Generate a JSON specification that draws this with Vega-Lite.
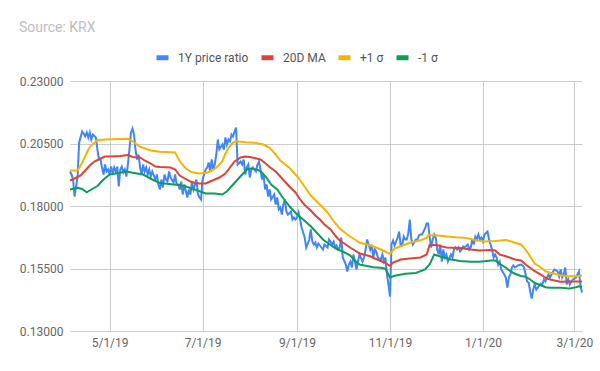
{
  "$schema": "https://vega.github.io/schema/vega-lite/v6.json",
  "width": 512,
  "height": 250,
  "autosize": {"type": "none"},
  "padding": {"left": 70, "top": 81, "right": 18, "bottom": 40},
  "background": "white",
  "config": {
    "view": {"stroke": null},
    "font": "Roboto",
    "axis": {"domain": false, "ticks": false, "tickSize": 0, "gridColor": "#cccccc", "gridWidth": 1, "labelFont": "Roboto", "labelFontSize": 12, "labelColor": "#666666", "title": null}
  },
  "title": {"text": "Source: KRX", "anchor": "start", "frame": "group", "fontSize": 14, "fontWeight": "normal", "font": "Roboto", "color": "#bdbdbd", "dx": -51, "offset": 14},
  "datasets": {
    "ratio": [
      {"date": "2019/04/05", "value": 0.1938}, {"date": "2019/04/06", "value": 0.1926}, {"date": "2019/04/07", "value": 0.1906}, {"date": "2019/04/08", "value": 0.1838},
      {"date": "2019/04/10", "value": 0.1918}, {"date": "2019/04/11", "value": 0.2054}, {"date": "2019/04/13", "value": 0.2098}, {"date": "2019/04/15", "value": 0.2079},
      {"date": "2019/04/16", "value": 0.2094}, {"date": "2019/04/17", "value": 0.2074}, {"date": "2019/04/18", "value": 0.2094}, {"date": "2019/04/19", "value": 0.2066},
      {"date": "2019/04/20", "value": 0.2086}, {"date": "2019/04/22", "value": 0.2074}, {"date": "2019/04/23", "value": 0.2026}, {"date": "2019/04/24", "value": 0.1986},
      {"date": "2019/04/25", "value": 0.1986}, {"date": "2019/04/26", "value": 0.1954}, {"date": "2019/04/27", "value": 0.1926}, {"date": "2019/04/28", "value": 0.1966},
      {"date": "2019/04/29", "value": 0.1938}, {"date": "2019/04/30", "value": 0.1946}, {"date": "2019/05/01", "value": 0.1926}, {"date": "2019/05/02", "value": 0.1958},
      {"date": "2019/05/03", "value": 0.1930}, {"date": "2019/05/04", "value": 0.1954}, {"date": "2019/05/05", "value": 0.1938}, {"date": "2019/05/06", "value": 0.1958},
      {"date": "2019/05/07", "value": 0.1878}, {"date": "2019/05/08", "value": 0.1946}, {"date": "2019/05/09", "value": 0.1958}, {"date": "2019/05/10", "value": 0.1934},
      {"date": "2019/05/11", "value": 0.1946}, {"date": "2019/05/12", "value": 0.1918}, {"date": "2019/05/13", "value": 0.1966}, {"date": "2019/05/14", "value": 0.2026},
      {"date": "2019/05/15", "value": 0.2094}, {"date": "2019/05/16", "value": 0.2110}, {"date": "2019/05/17", "value": 0.2086}, {"date": "2019/05/18", "value": 0.2026},
      {"date": "2019/05/19", "value": 0.1986}, {"date": "2019/05/20", "value": 0.2006}, {"date": "2019/05/21", "value": 0.1954}, {"date": "2019/05/22", "value": 0.1926},
      {"date": "2019/05/23", "value": 0.1966}, {"date": "2019/05/24", "value": 0.1938}, {"date": "2019/05/25", "value": 0.1954}, {"date": "2019/05/26", "value": 0.1926},
      {"date": "2019/05/27", "value": 0.1946}, {"date": "2019/05/28", "value": 0.1918}, {"date": "2019/05/29", "value": 0.1938}, {"date": "2019/05/31", "value": 0.1906},
      {"date": "2019/06/01", "value": 0.1926}, {"date": "2019/06/02", "value": 0.1886}, {"date": "2019/06/03", "value": 0.1866}, {"date": "2019/06/04", "value": 0.1906},
      {"date": "2019/06/05", "value": 0.1874}, {"date": "2019/06/06", "value": 0.1926}, {"date": "2019/06/07", "value": 0.1906}, {"date": "2019/06/08", "value": 0.1898},
      {"date": "2019/06/09", "value": 0.1938}, {"date": "2019/06/10", "value": 0.1914}, {"date": "2019/06/12", "value": 0.1894}, {"date": "2019/06/13", "value": 0.1926},
      {"date": "2019/06/14", "value": 0.1886}, {"date": "2019/06/15", "value": 0.1886}, {"date": "2019/06/16", "value": 0.1866}, {"date": "2019/06/17", "value": 0.1898},
      {"date": "2019/06/18", "value": 0.1846}, {"date": "2019/06/19", "value": 0.1886}, {"date": "2019/06/21", "value": 0.1834}, {"date": "2019/06/22", "value": 0.1866},
      {"date": "2019/06/23", "value": 0.1846}, {"date": "2019/06/24", "value": 0.1894}, {"date": "2019/06/25", "value": 0.1866}, {"date": "2019/06/26", "value": 0.1886},
      {"date": "2019/06/27", "value": 0.1906}, {"date": "2019/06/28", "value": 0.1846}, {"date": "2019/06/29", "value": 0.1834}, {"date": "2019/06/30", "value": 0.1826},
      {"date": "2019/07/01", "value": 0.1906}, {"date": "2019/07/03", "value": 0.1946}, {"date": "2019/07/04", "value": 0.1954}, {"date": "2019/07/05", "value": 0.1974},
      {"date": "2019/07/06", "value": 0.1938}, {"date": "2019/07/07", "value": 0.1986}, {"date": "2019/07/08", "value": 0.1946}, {"date": "2019/07/09", "value": 0.1966},
      {"date": "2019/07/10", "value": 0.2006}, {"date": "2019/07/11", "value": 0.2066}, {"date": "2019/07/12", "value": 0.2026}, {"date": "2019/07/14", "value": 0.2046},
      {"date": "2019/07/15", "value": 0.2026}, {"date": "2019/07/16", "value": 0.2074}, {"date": "2019/07/17", "value": 0.2046}, {"date": "2019/07/18", "value": 0.2066},
      {"date": "2019/07/19", "value": 0.2058}, {"date": "2019/07/20", "value": 0.2086}, {"date": "2019/07/21", "value": 0.2078}, {"date": "2019/07/22", "value": 0.2098},
      {"date": "2019/07/23", "value": 0.2114}, {"date": "2019/07/24", "value": 0.1966}, {"date": "2019/07/26", "value": 0.1978}, {"date": "2019/07/27", "value": 0.1966},
      {"date": "2019/07/28", "value": 0.1986}, {"date": "2019/07/29", "value": 0.1926}, {"date": "2019/07/30", "value": 0.1954}, {"date": "2019/07/31", "value": 0.1966},
      {"date": "2019/08/01", "value": 0.1914}, {"date": "2019/08/02", "value": 0.1946}, {"date": "2019/08/03", "value": 0.1954}, {"date": "2019/08/05", "value": 0.1938},
      {"date": "2019/08/06", "value": 0.1966}, {"date": "2019/08/07", "value": 0.1978}, {"date": "2019/08/08", "value": 0.1946}, {"date": "2019/08/09", "value": 0.1906},
      {"date": "2019/08/10", "value": 0.1926}, {"date": "2019/08/11", "value": 0.1866}, {"date": "2019/08/12", "value": 0.1886}, {"date": "2019/08/13", "value": 0.1838},
      {"date": "2019/08/14", "value": 0.1866}, {"date": "2019/08/15", "value": 0.1826}, {"date": "2019/08/17", "value": 0.1846}, {"date": "2019/08/18", "value": 0.1806},
      {"date": "2019/08/19", "value": 0.1834}, {"date": "2019/08/20", "value": 0.1786}, {"date": "2019/08/21", "value": 0.1794}, {"date": "2019/08/22", "value": 0.1766},
      {"date": "2019/08/23", "value": 0.1806}, {"date": "2019/08/24", "value": 0.1826}, {"date": "2019/08/25", "value": 0.1778}, {"date": "2019/08/26", "value": 0.1766},
      {"date": "2019/08/28", "value": 0.1778}, {"date": "2019/08/29", "value": 0.1746}, {"date": "2019/08/30", "value": 0.1754}, {"date": "2019/08/31", "value": 0.1746},
      {"date": "2019/09/01", "value": 0.1754}, {"date": "2019/09/02", "value": 0.1774}, {"date": "2019/09/03", "value": 0.1746}, {"date": "2019/09/04", "value": 0.1714},
      {"date": "2019/09/05", "value": 0.1694}, {"date": "2019/09/06", "value": 0.1674}, {"date": "2019/09/07", "value": 0.1634}, {"date": "2019/09/09", "value": 0.1666},
      {"date": "2019/09/10", "value": 0.1706}, {"date": "2019/09/11", "value": 0.1658}, {"date": "2019/09/12", "value": 0.1646}, {"date": "2019/09/13", "value": 0.1654},
      {"date": "2019/09/14", "value": 0.1634}, {"date": "2019/09/15", "value": 0.1650}, {"date": "2019/09/16", "value": 0.1642}, {"date": "2019/09/17", "value": 0.1634},
      {"date": "2019/09/18", "value": 0.1626}, {"date": "2019/09/19", "value": 0.1646}, {"date": "2019/09/21", "value": 0.1634}, {"date": "2019/09/22", "value": 0.1666},
      {"date": "2019/09/23", "value": 0.1658}, {"date": "2019/09/24", "value": 0.1646}, {"date": "2019/09/25", "value": 0.1658}, {"date": "2019/09/26", "value": 0.1634},
      {"date": "2019/09/27", "value": 0.1642}, {"date": "2019/09/28", "value": 0.1626}, {"date": "2019/09/29", "value": 0.1634}, {"date": "2019/09/30", "value": 0.1674},
      {"date": "2019/10/01", "value": 0.1594}, {"date": "2019/10/03", "value": 0.1566}, {"date": "2019/10/04", "value": 0.1538}, {"date": "2019/10/05", "value": 0.1566},
      {"date": "2019/10/06", "value": 0.1578}, {"date": "2019/10/07", "value": 0.1554}, {"date": "2019/10/08", "value": 0.1606}, {"date": "2019/10/09", "value": 0.1578},
      {"date": "2019/10/10", "value": 0.1546}, {"date": "2019/10/11", "value": 0.1578}, {"date": "2019/10/12", "value": 0.1606}, {"date": "2019/10/14", "value": 0.1578},
      {"date": "2019/10/15", "value": 0.1594}, {"date": "2019/10/16", "value": 0.1626}, {"date": "2019/10/17", "value": 0.1666}, {"date": "2019/10/18", "value": 0.1646},
      {"date": "2019/10/19", "value": 0.1626}, {"date": "2019/10/20", "value": 0.1646}, {"date": "2019/10/21", "value": 0.1594}, {"date": "2019/10/22", "value": 0.1626},
      {"date": "2019/10/23", "value": 0.1618}, {"date": "2019/10/24", "value": 0.1594}, {"date": "2019/10/26", "value": 0.1586}, {"date": "2019/10/27", "value": 0.1606},
      {"date": "2019/10/28", "value": 0.1578}, {"date": "2019/10/29", "value": 0.1594}, {"date": "2019/10/30", "value": 0.1526}, {"date": "2019/10/31", "value": 0.1486},
      {"date": "2019/11/01", "value": 0.1438}, {"date": "2019/11/02", "value": 0.1646}, {"date": "2019/11/03", "value": 0.1662}, {"date": "2019/11/04", "value": 0.1642},
      {"date": "2019/11/06", "value": 0.1674}, {"date": "2019/11/07", "value": 0.1698}, {"date": "2019/11/08", "value": 0.1642}, {"date": "2019/11/09", "value": 0.1642},
      {"date": "2019/11/10", "value": 0.1678}, {"date": "2019/11/11", "value": 0.1666}, {"date": "2019/11/12", "value": 0.1666}, {"date": "2019/11/13", "value": 0.1690},
      {"date": "2019/11/14", "value": 0.1746}, {"date": "2019/11/15", "value": 0.1666}, {"date": "2019/11/16", "value": 0.1646}, {"date": "2019/11/18", "value": 0.1666},
      {"date": "2019/11/19", "value": 0.1666}, {"date": "2019/11/20", "value": 0.1682}, {"date": "2019/11/21", "value": 0.1686}, {"date": "2019/11/22", "value": 0.1686},
      {"date": "2019/11/23", "value": 0.1698}, {"date": "2019/11/24", "value": 0.1710}, {"date": "2019/11/25", "value": 0.1730}, {"date": "2019/11/26", "value": 0.1730},
      {"date": "2019/11/27", "value": 0.1678}, {"date": "2019/11/28", "value": 0.1634}, {"date": "2019/11/29", "value": 0.1666}, {"date": "2019/11/30", "value": 0.1686},
      {"date": "2019/12/01", "value": 0.1674}, {"date": "2019/12/02", "value": 0.1626}, {"date": "2019/12/03", "value": 0.1606}, {"date": "2019/12/04", "value": 0.1646},
      {"date": "2019/12/05", "value": 0.1578}, {"date": "2019/12/06", "value": 0.1626}, {"date": "2019/12/07", "value": 0.1594}, {"date": "2019/12/08", "value": 0.1606},
      {"date": "2019/12/09", "value": 0.1578}, {"date": "2019/12/11", "value": 0.1606}, {"date": "2019/12/12", "value": 0.1594}, {"date": "2019/12/13", "value": 0.1626},
      {"date": "2019/12/14", "value": 0.1634}, {"date": "2019/12/15", "value": 0.1626}, {"date": "2019/12/16", "value": 0.1634}, {"date": "2019/12/17", "value": 0.1618},
      {"date": "2019/12/18", "value": 0.1626}, {"date": "2019/12/19", "value": 0.1638}, {"date": "2019/12/20", "value": 0.1634}, {"date": "2019/12/22", "value": 0.1646},
      {"date": "2019/12/23", "value": 0.1626}, {"date": "2019/12/24", "value": 0.1634}, {"date": "2019/12/25", "value": 0.1666}, {"date": "2019/12/26", "value": 0.1646},
      {"date": "2019/12/27", "value": 0.1678}, {"date": "2019/12/28", "value": 0.1666}, {"date": "2019/12/29", "value": 0.1686}, {"date": "2019/12/30", "value": 0.1666},
      {"date": "2019/12/31", "value": 0.1674}, {"date": "2020/01/01", "value": 0.1658}, {"date": "2020/01/02", "value": 0.1686}, {"date": "2020/01/04", "value": 0.1698},
      {"date": "2020/01/05", "value": 0.1666}, {"date": "2020/01/06", "value": 0.1646}, {"date": "2020/01/07", "value": 0.1626}, {"date": "2020/01/08", "value": 0.1594},
      {"date": "2020/01/09", "value": 0.1606}, {"date": "2020/01/10", "value": 0.1594}, {"date": "2020/01/11", "value": 0.1566}, {"date": "2020/01/12", "value": 0.1578},
      {"date": "2020/01/13", "value": 0.1546}, {"date": "2020/01/15", "value": 0.1526}, {"date": "2020/01/16", "value": 0.1514}, {"date": "2020/01/17", "value": 0.1474},
      {"date": "2020/01/18", "value": 0.1514}, {"date": "2020/01/19", "value": 0.1526}, {"date": "2020/01/20", "value": 0.1554}, {"date": "2020/01/21", "value": 0.1562},
      {"date": "2020/01/22", "value": 0.1554}, {"date": "2020/01/23", "value": 0.1558}, {"date": "2020/01/24", "value": 0.1562}, {"date": "2020/01/26", "value": 0.1566},
      {"date": "2020/01/27", "value": 0.1562}, {"date": "2020/01/28", "value": 0.1554}, {"date": "2020/01/29", "value": 0.1526}, {"date": "2020/01/30", "value": 0.1498},
      {"date": "2020/01/31", "value": 0.1494}, {"date": "2020/02/01", "value": 0.1458}, {"date": "2020/02/02", "value": 0.1430}, {"date": "2020/02/03", "value": 0.1466},
      {"date": "2020/02/04", "value": 0.1486}, {"date": "2020/02/05", "value": 0.1466}, {"date": "2020/02/07", "value": 0.1482}, {"date": "2020/02/08", "value": 0.1490},
      {"date": "2020/02/09", "value": 0.1486}, {"date": "2020/02/10", "value": 0.1506}, {"date": "2020/02/11", "value": 0.1498}, {"date": "2020/02/12", "value": 0.1514},
      {"date": "2020/02/13", "value": 0.1526}, {"date": "2020/02/14", "value": 0.1514}, {"date": "2020/02/15", "value": 0.1526}, {"date": "2020/02/16", "value": 0.1538},
      {"date": "2020/02/17", "value": 0.1546}, {"date": "2020/02/19", "value": 0.1538}, {"date": "2020/02/20", "value": 0.1518}, {"date": "2020/02/21", "value": 0.1546},
      {"date": "2020/02/22", "value": 0.1514}, {"date": "2020/02/23", "value": 0.1526}, {"date": "2020/02/24", "value": 0.1554}, {"date": "2020/02/25", "value": 0.1486},
      {"date": "2020/02/26", "value": 0.1506}, {"date": "2020/02/27", "value": 0.1486}, {"date": "2020/02/28", "value": 0.1498}, {"date": "2020/02/29", "value": 0.1506},
      {"date": "2020/03/02", "value": 0.1514}, {"date": "2020/03/03", "value": 0.1526}, {"date": "2020/03/04", "value": 0.1538}, {"date": "2020/03/05", "value": 0.1482},
      {"date": "2020/03/06", "value": 0.1454}
    ],
    "ma": [
      {"date": "2019/04/05", "value": 0.1902}, {"date": "2019/04/08", "value": 0.1910}, {"date": "2019/04/12", "value": 0.1922}, {"date": "2019/04/15", "value": 0.1942},
      {"date": "2019/04/18", "value": 0.1962}, {"date": "2019/04/21", "value": 0.1978}, {"date": "2019/04/25", "value": 0.1990}, {"date": "2019/04/28", "value": 0.1998},
      {"date": "2019/05/01", "value": 0.1998}, {"date": "2019/05/08", "value": 0.2000}, {"date": "2019/05/13", "value": 0.2004}, {"date": "2019/05/16", "value": 0.1996},
      {"date": "2019/05/21", "value": 0.1994}, {"date": "2019/05/24", "value": 0.1982}, {"date": "2019/05/28", "value": 0.1970}, {"date": "2019/05/31", "value": 0.1958},
      {"date": "2019/06/03", "value": 0.1956}, {"date": "2019/06/10", "value": 0.1954}, {"date": "2019/06/13", "value": 0.1946}, {"date": "2019/06/16", "value": 0.1922},
      {"date": "2019/06/20", "value": 0.1908}, {"date": "2019/06/23", "value": 0.1898}, {"date": "2019/06/26", "value": 0.1892}, {"date": "2019/06/29", "value": 0.1890},
      {"date": "2019/07/03", "value": 0.1890}, {"date": "2019/07/06", "value": 0.1898}, {"date": "2019/07/09", "value": 0.1906}, {"date": "2019/07/12", "value": 0.1914},
      {"date": "2019/07/16", "value": 0.1930}, {"date": "2019/07/19", "value": 0.1954}, {"date": "2019/07/22", "value": 0.1978}, {"date": "2019/07/26", "value": 0.1994},
      {"date": "2019/07/29", "value": 0.1998}, {"date": "2019/08/01", "value": 0.1996}, {"date": "2019/08/04", "value": 0.1992}, {"date": "2019/08/08", "value": 0.1986},
      {"date": "2019/08/11", "value": 0.1972}, {"date": "2019/08/14", "value": 0.1956}, {"date": "2019/08/18", "value": 0.1938}, {"date": "2019/08/21", "value": 0.1918},
      {"date": "2019/08/24", "value": 0.1898}, {"date": "2019/08/27", "value": 0.1878}, {"date": "2019/08/31", "value": 0.1854}, {"date": "2019/09/03", "value": 0.1826},
      {"date": "2019/09/06", "value": 0.1804}, {"date": "2019/09/10", "value": 0.1782}, {"date": "2019/09/13", "value": 0.1762}, {"date": "2019/09/16", "value": 0.1746},
      {"date": "2019/09/19", "value": 0.1726}, {"date": "2019/09/23", "value": 0.1706}, {"date": "2019/09/26", "value": 0.1682}, {"date": "2019/09/29", "value": 0.1662},
      {"date": "2019/10/03", "value": 0.1646}, {"date": "2019/10/06", "value": 0.1633}, {"date": "2019/10/09", "value": 0.1622}, {"date": "2019/10/12", "value": 0.1610},
      {"date": "2019/10/16", "value": 0.1604}, {"date": "2019/10/19", "value": 0.1599}, {"date": "2019/10/22", "value": 0.1590}, {"date": "2019/10/26", "value": 0.1580},
      {"date": "2019/10/29", "value": 0.1572}, {"date": "2019/11/01", "value": 0.1560}, {"date": "2019/11/03", "value": 0.1574}, {"date": "2019/11/08", "value": 0.1586},
      {"date": "2019/11/14", "value": 0.1590}, {"date": "2019/11/21", "value": 0.1594}, {"date": "2019/11/25", "value": 0.1606}, {"date": "2019/11/27", "value": 0.1644},
      {"date": "2019/12/01", "value": 0.1644}, {"date": "2019/12/08", "value": 0.1634}, {"date": "2019/12/17", "value": 0.1632}, {"date": "2019/12/24", "value": 0.1626},
      {"date": "2019/12/30", "value": 0.1622}, {"date": "2020/01/06", "value": 0.1624}, {"date": "2020/01/09", "value": 0.1622}, {"date": "2020/01/12", "value": 0.1606},
      {"date": "2020/01/16", "value": 0.1599}, {"date": "2020/01/19", "value": 0.1593}, {"date": "2020/01/22", "value": 0.1586}, {"date": "2020/01/26", "value": 0.1582},
      {"date": "2020/01/29", "value": 0.1566}, {"date": "2020/02/01", "value": 0.1553}, {"date": "2020/02/04", "value": 0.1539}, {"date": "2020/02/08", "value": 0.1526},
      {"date": "2020/02/11", "value": 0.1513}, {"date": "2020/02/14", "value": 0.1506}, {"date": "2020/02/17", "value": 0.1502}, {"date": "2020/02/21", "value": 0.1497},
      {"date": "2020/02/27", "value": 0.1498}, {"date": "2020/03/06", "value": 0.1498}
    ],
    "upper": [
      {"date": "2019/04/05", "value": 0.1942}, {"date": "2019/04/10", "value": 0.1942}, {"date": "2019/04/13", "value": 0.1973}, {"date": "2019/04/17", "value": 0.2026},
      {"date": "2019/04/19", "value": 0.2042}, {"date": "2019/04/23", "value": 0.2063}, {"date": "2019/04/28", "value": 0.2066}, {"date": "2019/05/13", "value": 0.2069},
      {"date": "2019/05/16", "value": 0.2059}, {"date": "2019/05/21", "value": 0.2037}, {"date": "2019/05/28", "value": 0.2022}, {"date": "2019/06/03", "value": 0.2017},
      {"date": "2019/06/13", "value": 0.2014}, {"date": "2019/06/16", "value": 0.1979}, {"date": "2019/06/20", "value": 0.1950}, {"date": "2019/06/24", "value": 0.1935},
      {"date": "2019/06/29", "value": 0.1930}, {"date": "2019/07/04", "value": 0.1933}, {"date": "2019/07/07", "value": 0.1942}, {"date": "2019/07/10", "value": 0.1953},
      {"date": "2019/07/14", "value": 0.1979}, {"date": "2019/07/16", "value": 0.2010}, {"date": "2019/07/18", "value": 0.2033}, {"date": "2019/07/21", "value": 0.2054},
      {"date": "2019/07/23", "value": 0.2059}, {"date": "2019/07/29", "value": 0.2055}, {"date": "2019/08/04", "value": 0.2053}, {"date": "2019/08/10", "value": 0.2046},
      {"date": "2019/08/14", "value": 0.2033}, {"date": "2019/08/18", "value": 0.2006}, {"date": "2019/08/21", "value": 0.1982}, {"date": "2019/08/27", "value": 0.1953},
      {"date": "2019/09/01", "value": 0.1919}, {"date": "2019/09/05", "value": 0.1886}, {"date": "2019/09/10", "value": 0.1842}, {"date": "2019/09/16", "value": 0.1806},
      {"date": "2019/09/21", "value": 0.1774}, {"date": "2019/09/25", "value": 0.1739}, {"date": "2019/09/29", "value": 0.1710}, {"date": "2019/10/04", "value": 0.1686},
      {"date": "2019/10/08", "value": 0.1669}, {"date": "2019/10/12", "value": 0.1654}, {"date": "2019/10/17", "value": 0.1646}, {"date": "2019/10/21", "value": 0.1639},
      {"date": "2019/10/26", "value": 0.1626}, {"date": "2019/10/30", "value": 0.1614}, {"date": "2019/11/01", "value": 0.1609}, {"date": "2019/11/04", "value": 0.1630},
      {"date": "2019/11/08", "value": 0.1639}, {"date": "2019/11/14", "value": 0.1653}, {"date": "2019/11/21", "value": 0.1663}, {"date": "2019/11/25", "value": 0.1672},
      {"date": "2019/11/26", "value": 0.1683}, {"date": "2019/12/01", "value": 0.1683}, {"date": "2019/12/07", "value": 0.1679}, {"date": "2019/12/14", "value": 0.1675},
      {"date": "2019/12/20", "value": 0.1673}, {"date": "2019/12/27", "value": 0.1664}, {"date": "2020/01/02", "value": 0.1658}, {"date": "2020/01/09", "value": 0.1660},
      {"date": "2020/01/16", "value": 0.1664}, {"date": "2020/01/19", "value": 0.1659}, {"date": "2020/01/22", "value": 0.1653}, {"date": "2020/01/26", "value": 0.1646},
      {"date": "2020/01/29", "value": 0.1626}, {"date": "2020/02/01", "value": 0.1598}, {"date": "2020/02/04", "value": 0.1570}, {"date": "2020/02/08", "value": 0.1554},
      {"date": "2020/02/11", "value": 0.1539}, {"date": "2020/02/14", "value": 0.1533}, {"date": "2020/02/17", "value": 0.1529}, {"date": "2020/02/21", "value": 0.1523},
      {"date": "2020/02/24", "value": 0.1520}, {"date": "2020/03/02", "value": 0.1519}, {"date": "2020/03/06", "value": 0.1522}
    ],
    "lower": [
      {"date": "2019/04/05", "value": 0.1866}, {"date": "2019/04/10", "value": 0.1873}, {"date": "2019/04/13", "value": 0.1868}, {"date": "2019/04/16", "value": 0.1855},
      {"date": "2019/04/19", "value": 0.1866}, {"date": "2019/04/23", "value": 0.1880}, {"date": "2019/04/27", "value": 0.1906}, {"date": "2019/05/01", "value": 0.1926},
      {"date": "2019/05/08", "value": 0.1933}, {"date": "2019/05/12", "value": 0.1939}, {"date": "2019/05/16", "value": 0.1933}, {"date": "2019/05/23", "value": 0.1926},
      {"date": "2019/05/29", "value": 0.1906}, {"date": "2019/06/03", "value": 0.1892}, {"date": "2019/06/12", "value": 0.1886}, {"date": "2019/06/16", "value": 0.1884},
      {"date": "2019/06/20", "value": 0.1878}, {"date": "2019/06/26", "value": 0.1866}, {"date": "2019/07/03", "value": 0.1850}, {"date": "2019/07/09", "value": 0.1850},
      {"date": "2019/07/14", "value": 0.1846}, {"date": "2019/07/17", "value": 0.1859}, {"date": "2019/07/20", "value": 0.1879}, {"date": "2019/07/23", "value": 0.1899},
      {"date": "2019/07/27", "value": 0.1926}, {"date": "2019/07/30", "value": 0.1946}, {"date": "2019/08/02", "value": 0.1950}, {"date": "2019/08/06", "value": 0.1945},
      {"date": "2019/08/09", "value": 0.1934}, {"date": "2019/08/12", "value": 0.1913}, {"date": "2019/08/15", "value": 0.1886}, {"date": "2019/08/19", "value": 0.1866},
      {"date": "2019/08/22", "value": 0.1839}, {"date": "2019/08/27", "value": 0.1799}, {"date": "2019/09/01", "value": 0.1766}, {"date": "2019/09/05", "value": 0.1746},
      {"date": "2019/09/10", "value": 0.1719}, {"date": "2019/09/14", "value": 0.1693}, {"date": "2019/09/18", "value": 0.1666}, {"date": "2019/09/23", "value": 0.1644},
      {"date": "2019/09/27", "value": 0.1628}, {"date": "2019/10/01", "value": 0.1618}, {"date": "2019/10/06", "value": 0.1602}, {"date": "2019/10/09", "value": 0.1582},
      {"date": "2019/10/12", "value": 0.1566}, {"date": "2019/10/17", "value": 0.1560}, {"date": "2019/10/21", "value": 0.1555}, {"date": "2019/10/26", "value": 0.1553},
      {"date": "2019/10/29", "value": 0.1549}, {"date": "2019/11/01", "value": 0.1514}, {"date": "2019/11/04", "value": 0.1521}, {"date": "2019/11/11", "value": 0.1529},
      {"date": "2019/11/18", "value": 0.1532}, {"date": "2019/11/24", "value": 0.1546}, {"date": "2019/11/27", "value": 0.1566}, {"date": "2019/11/30", "value": 0.1606},
      {"date": "2019/12/04", "value": 0.1598}, {"date": "2019/12/11", "value": 0.1586}, {"date": "2019/12/17", "value": 0.1580}, {"date": "2019/12/24", "value": 0.1577},
      {"date": "2019/12/30", "value": 0.1577}, {"date": "2020/01/06", "value": 0.1582}, {"date": "2020/01/09", "value": 0.1582}, {"date": "2020/01/12", "value": 0.1569},
      {"date": "2020/01/16", "value": 0.1553}, {"date": "2020/01/19", "value": 0.1539}, {"date": "2020/01/22", "value": 0.1529}, {"date": "2020/01/26", "value": 0.1520},
      {"date": "2020/01/29", "value": 0.1517}, {"date": "2020/02/01", "value": 0.1506}, {"date": "2020/02/04", "value": 0.1492}, {"date": "2020/02/08", "value": 0.1483},
      {"date": "2020/02/11", "value": 0.1475}, {"date": "2020/02/14", "value": 0.1473}, {"date": "2020/02/21", "value": 0.1473}, {"date": "2020/02/27", "value": 0.1470},
      {"date": "2020/03/02", "value": 0.1475}, {"date": "2020/03/04", "value": 0.1479}, {"date": "2020/03/06", "value": 0.1475}
    ]
  },
  "encoding": {
    "x": {
      "field": "date", "type": "temporal",
      "scale": {"domain": [{"year": 2019, "month": "apr", "date": 5}, {"year": 2020, "month": "mar", "date": 6}]},
      "axis": {"grid": true, "format": "%-m/%-d/%y", "labelPadding": 6, "labelFlush": false,
        "values": [{"year": 2019, "month": "may", "date": 1}, {"year": 2019, "month": "jul", "date": 1}, {"year": 2019, "month": "sep", "date": 1}, {"year": 2019, "month": "nov", "date": 1}, {"year": 2020, "month": "jan", "date": 1}, {"year": 2020, "month": "mar", "date": 1}]}
    },
    "y": {
      "field": "value", "type": "quantitative",
      "scale": {"domain": [0.13, 0.23], "nice": false, "zero": false},
      "axis": {"grid": true, "format": ".5f", "labelPadding": 7, "values": [0.13, 0.155, 0.18, 0.205, 0.23]}
    }
  },
  "layer": [
    {"data": {"name": "ratio"}, "mark": {"type": "line", "strokeWidth": 2, "interpolate": "linear"},
      "encoding": {"color": {"datum": "1Y price ratio",
        "scale": {"domain": ["1Y price ratio", "20D MA", "+1 σ", "-1 σ"], "range": ["#4285F4", "#DB4437", "#F4B400", "#0F9D58"]},
        "legend": {"orient": "none", "legendX": 84, "legendY": -32, "direction": "horizontal", "title": null, "padding": 0,
          "symbolType": "stroke", "symbolStrokeWidth": 5, "symbolSize": 144, "labelFont": "Roboto", "labelFontSize": 12, "labelColor": "#555555", "labelOffset": 7, "columnPadding": 2}}}},
    {"data": {"name": "ma"}, "mark": {"type": "line", "strokeWidth": 2}, "encoding": {"color": {"datum": "20D MA"}}},
    {"data": {"name": "upper"}, "mark": {"type": "line", "strokeWidth": 2}, "encoding": {"color": {"datum": "+1 σ"}}},
    {"data": {"name": "lower"}, "mark": {"type": "line", "strokeWidth": 2}, "encoding": {"color": {"datum": "-1 σ"}}}
  ]
}
